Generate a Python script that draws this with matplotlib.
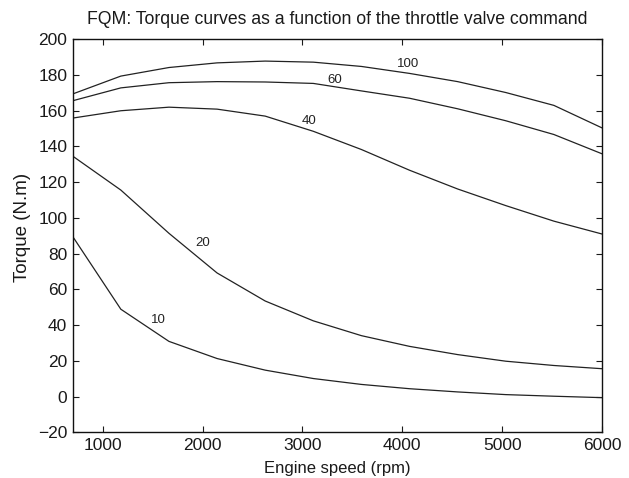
import numpy as np
import matplotlib.pyplot as plt

plt.rcParams['font.family'] = ['Liberation Sans', 'DejaVu Sans']

# engine speed grid (rpm)
speed = np.linspace(700, 6000, 12)

# torque (N.m) for each throttle valve command (%)
torque_10 = [89.6, 48.9, 30.9, 21.3, 14.8, 10.1, 6.8, 4.4, 2.6, 1.1, 0.2, -0.6]
torque_20 = [134.6, 115.6, 91.4, 69.2, 53.5, 42.4, 34.1, 28.1, 23.5, 19.8, 17.4, 15.6]
torque_40 = [155.9, 160.0, 162.0, 160.9, 157.0, 148.5, 138.3, 126.7, 116.2, 106.9, 98.2, 91.0]
torque_60 = [165.6, 172.8, 175.7, 176.3, 176.1, 175.3, 171.1, 167.0, 161.1, 154.4, 146.7, 135.9]
torque_100 = [169.4, 179.4, 184.2, 186.8, 187.8, 187.2, 184.8, 180.9, 176.3, 170.2, 163.0, 150.4]

curves = [torque_10, torque_20, torque_40, torque_60, torque_100]
labels = ['10', '20', '40', '60', '100']
label_pos = [(1553, 43), (2000, 86), (3070, 154), (3320, 177), (4060, 186)]

fig = plt.figure(figsize=(6.29, 4.78), dpi=100)
ax = fig.add_axes([0.1156, 0.0956, 0.8415, 0.8222])

for y in curves:
    ax.plot(speed, y, color='#222222', linewidth=0.9)

for txt, (x, y) in zip(labels, label_pos):
    ax.text(x, y, txt, fontsize=9.5, color='#222222', ha='center', va='center')

ax.set_xlim(700, 6000)
ax.set_ylim(-20, 200)
ax.set_xticks([1000, 2000, 3000, 4000, 5000, 6000])
ax.set_yticks(np.arange(-20, 201, 20))
ax.tick_params(direction='in', top=True, right=True, length=4, width=0.8,
               labelsize=12.5, colors='#1a1a1a', pad=4)
for s in ax.spines.values():
    s.set_linewidth(1.0)
    s.set_color('#111111')

ax.set_xlabel('Engine speed (rpm)', fontsize=12, color='#1a1a1a', va='center')
ax.xaxis.set_label_coords(0.5, -0.091)
ax.set_ylabel('Torque (N.m)', fontsize=13.5, color='#1a1a1a', va='center')
ax.yaxis.set_label_coords(-0.095, 0.52)
ax.set_title('FQM: Torque curves as a function of the throttle valve command',
             fontsize=12.7, pad=11, color='#1a1a1a')

fig.savefig('out.png', dpi=100)
